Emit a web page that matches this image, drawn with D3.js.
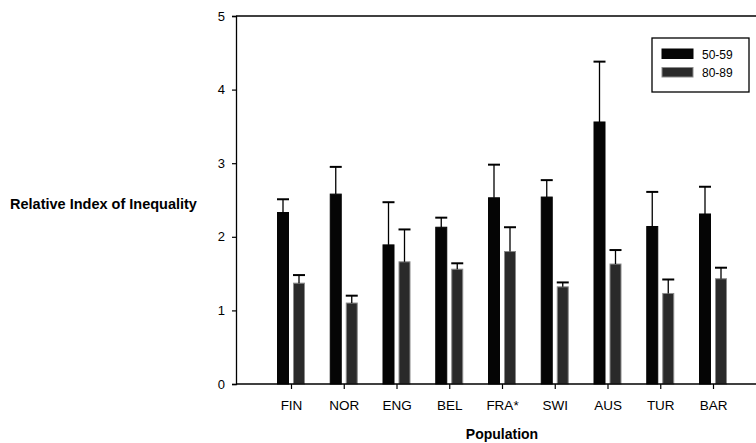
<!DOCTYPE html>
<html>
<head>
<meta charset="utf-8">
<script src="https://cdn.jsdelivr.net/npm/d3@7"></script>
<style>
  body { margin: 0; background: #fff; }
  svg { display: block; }
  text { font-family: "Liberation Sans", Arial, sans-serif; fill: #000; }
</style>
</head>
<body>
<svg id="chart" width="756" height="443"></svg>
<script>
const categories = ["FIN", "NOR", "ENG", "BEL", "FRA*", "SWI", "AUS", "TUR", "BAR"];
const seriesNames = ["50-59", "80-89"];
const values5059 = [2.33, 2.58, 1.89, 2.13, 2.53, 2.54, 3.56, 2.14, 2.31];
const errTop5059 = [2.51, 2.95, 2.47, 2.26, 2.98, 2.77, 4.38, 2.61, 2.68];
const values8089 = [1.37, 1.10, 1.66, 1.56, 1.80, 1.32, 1.63, 1.23, 1.43];
const errTop8089 = [1.48, 1.20, 2.10, 1.64, 2.13, 1.38, 1.82, 1.42, 1.58];
const yTicks = [0, 1, 2, 3, 4, 5];

const svg = d3.select("#chart");
const mLeft = 236, mRight = 756, mTop = 16, mBottom = 384;

const x = d3.scalePoint().domain(categories).range([291, 713]);
const y = d3.scaleLinear().domain([0, 5]).range([mBottom, mTop]);

const barW = 11, gap = 2.5;
const series = [
  { name: seriesNames[0], vals: values5059, err: errTop5059, offset: -gap - barW, fill: "#050505", stroke: "#050505" },
  { name: seriesNames[1], vals: values8089, err: errTop8089, offset: gap, fill: "#2a2a2a", stroke: "#8a8a8a" }
];

// Bars
series.forEach(s => {
  const g = svg.append("g");
  g.selectAll("rect").data(categories).join("rect")
    .attr("x", (c) => x(c) + s.offset)
    .attr("y", (c, i) => y(s.vals[i]))
    .attr("width", barW)
    .attr("height", (c, i) => y(0) - y(s.vals[i]))
    .attr("fill", s.fill)
    .attr("stroke", s.stroke)
    .attr("stroke-width", 1);
  g.selectAll("line.v").data(categories).join("line").attr("class", "v")
    .attr("x1", c => x(c) + s.offset + barW / 2)
    .attr("x2", c => x(c) + s.offset + barW / 2)
    .attr("y1", (c, i) => y(s.vals[i]))
    .attr("y2", (c, i) => y(s.err[i]))
    .attr("stroke", "#000").attr("stroke-width", 1.3);
  g.selectAll("line.cap").data(categories).join("line").attr("class", "cap")
    .attr("x1", c => x(c) + s.offset + barW / 2 - 6)
    .attr("x2", c => x(c) + s.offset + barW / 2 + 6)
    .attr("y1", (c, i) => y(s.err[i]))
    .attr("y2", (c, i) => y(s.err[i]))
    .attr("stroke", "#000").attr("stroke-width", 2);
});

// Y axis
const yAxis = svg.append("g").attr("transform", `translate(${mLeft},0)`)
  .call(d3.axisLeft(y).tickValues(yTicks).tickFormat(d3.format("d")).tickSize(4).tickPadding(7));
yAxis.select(".domain").attr("stroke", "#000").attr("stroke-width", 1.3);
yAxis.selectAll(".tick line").attr("stroke", "#000").attr("stroke-width", 1.2);
yAxis.selectAll(".tick text").attr("font-size", 13).attr("font-family", "Liberation Sans, Arial, sans-serif");

// X axis
const xAxis = svg.append("g").attr("transform", `translate(0,${mBottom})`)
  .call(d3.axisBottom(x).tickSize(5).tickPadding(11));
xAxis.select(".domain").remove();
svg.append("line").attr("x1", mLeft).attr("x2", mRight).attr("y1", mBottom).attr("y2", mBottom)
  .attr("stroke", "#000").attr("stroke-width", 1.5);
xAxis.selectAll(".tick line").attr("stroke", "#000").attr("stroke-width", 1.2);
xAxis.selectAll(".tick text").attr("font-size", 13.5).attr("font-family", "Liberation Sans, Arial, sans-serif");

// Top border line
svg.append("line").attr("x1", mLeft).attr("x2", mRight).attr("y1", mTop).attr("y2", mTop)
  .attr("stroke", "#000").attr("stroke-width", 1.5);

// Axis titles
svg.append("text").attr("x", 10).attr("y", 209)
  .attr("font-size", 14.5).attr("font-weight", "bold")
  .text("Relative Index of Inequality");
svg.append("text").attr("x", 502).attr("y", 439).attr("text-anchor", "middle")
  .attr("font-size", 14).attr("font-weight", "bold")
  .text("Population");

// Legend
const lg = svg.append("g");
lg.append("rect").attr("x", 652).attr("y", 38).attr("width", 97).attr("height", 54)
  .attr("fill", "#fff").attr("stroke", "#000").attr("stroke-width", 1.3);
series.forEach((s, i) => {
  const yy = 49 + i * 18.5;
  lg.append("rect").attr("x", 662).attr("y", yy).attr("width", 31).attr("height", 9.5)
    .attr("fill", s.fill).attr("stroke", s.stroke).attr("stroke-width", 1);
  lg.append("text").attr("x", 702).attr("y", yy + 9.5).attr("font-size", 12).text(s.name);
});
</script>
</body>
</html>
